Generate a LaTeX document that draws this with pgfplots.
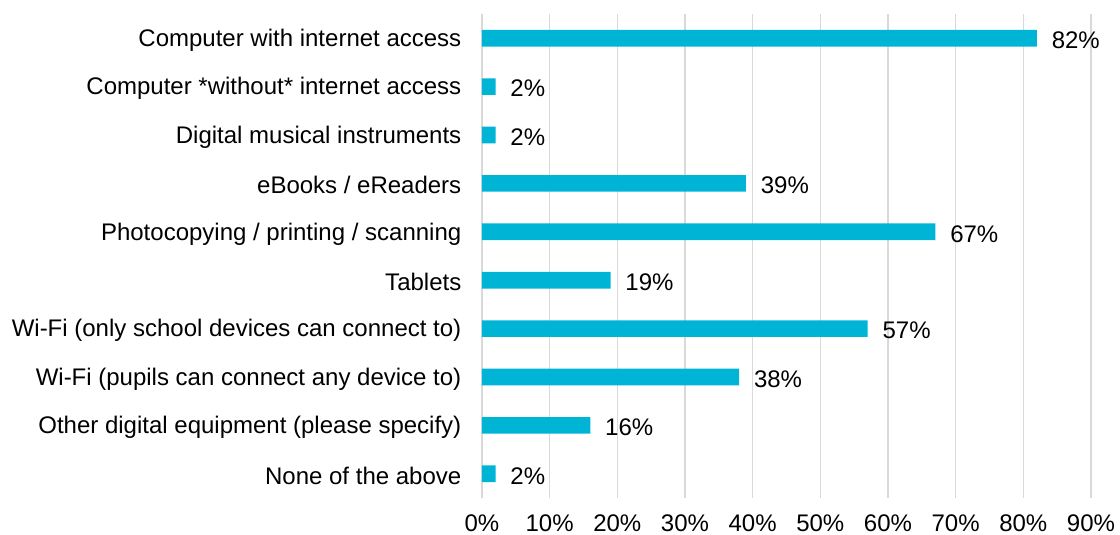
\documentclass[border=0pt]{standalone}
\usepackage{fontspec}
\setmainfont{Liberation Sans}
\usepackage{pgfplots}
\pgfplotsset{compat=1.18}
\usetikzlibrary{calc}
\definecolor{barblue}{RGB}{0,180,214}
\definecolor{gridgray}{RGB}{217,217,217}

\begin{document}
\begin{tikzpicture}
\begin{axis}[
  name=ax,
  scale only axis,
  width=456.75pt,
  height=363pt,
  xbar,
  bar width=12.5pt,
  xmin=0, xmax=90,
  ymin=0.5, ymax=10.5,
  y dir=reverse,
  xtick={0,10,...,90},
  xticklabels={0\%,10\%,20\%,30\%,40\%,50\%,60\%,70\%,80\%,90\%},
  ytick={1,...,10},
  yticklabels={
    Computer with internet access,
    Computer *without* internet access,
    Digital musical instruments,
    eBooks / eReaders,
    Photocopying / printing / scanning,
    Tablets,
    Wi-Fi (only school devices can connect to),
    Wi-Fi (pupils can connect any device to),
    Other digital equipment (please specify),
    None of the above},
  axis line style={draw=none},
  major tick length=0pt,
  xmajorgrids=true,
  grid style={line width=0.8pt, draw=gridgray},
  tick label style={font=\fontsize{18}{21}\selectfont},
  xticklabel style={yshift=-9pt},
  yticklabel style={xshift=-12pt, yshift=-1.5pt},
  /pgf/number format/assume math mode=true,
  nodes near coords={\pgfmathprintnumber{\pgfplotspointmeta}\%},
  point meta=x,
  nodes near coords style={font=\fontsize{18}{21}\selectfont, anchor=west, inner sep=0pt, xshift=11pt, yshift=-1.5pt},
]
\addplot[fill=barblue, draw=none] coordinates {
  (82,1) (2,2) (2,3) (39,4) (67,5) (19,6) (57,7) (38,8) (16,9) (2,10)};
\end{axis}
\pgfresetboundingbox
\path ($(ax.south west)+(-361.5pt,-27.75pt)$) rectangle ($(ax.south west)+(478.5pt,373.5pt)$);
\end{tikzpicture}
\end{document}
